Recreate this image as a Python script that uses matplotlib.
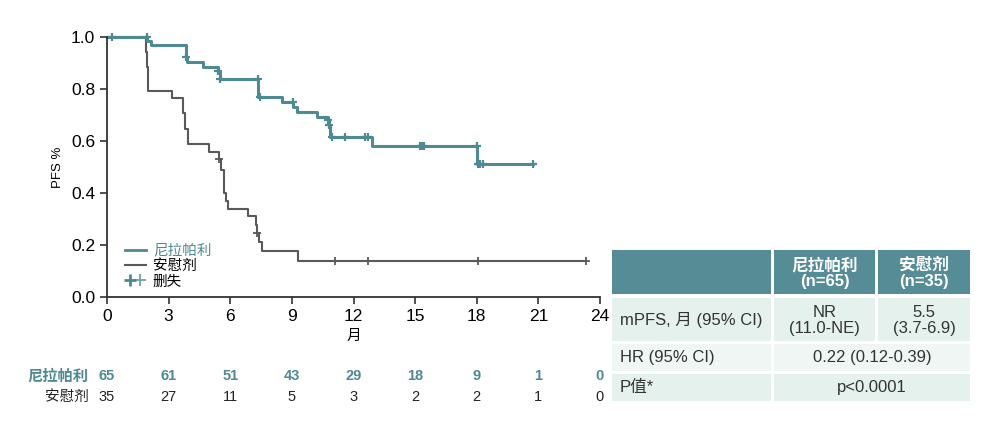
import matplotlib
matplotlib.use('Agg')
import matplotlib.pyplot as plt
from matplotlib.lines import Line2D
from matplotlib.patches import Rectangle
from matplotlib.legend_handler import HandlerTuple

plt.rcParams['font.family'] = ['Liberation Sans', 'Noto Sans CJK SC', 'DejaVu Sans']

teal = '#4e8a93'
gray = '#595959'
header_fill = '#558c95'
row_fill = '#e5f1ec'
row_fill_light = '#eff6f3'

# Kaplan-Meier steps
t_nir = [0, 1.93, 2.13, 3.85, 3.9, 4.69, 5.42, 5.5, 7.33, 8.5, 9.04, 9.24,
         10.2, 10.75, 10.8, 10.86, 12.89, 18.0, 20.76]
s_nir = [1.0, 0.985, 0.969, 0.923, 0.902, 0.886, 0.87, 0.838, 0.768, 0.749,
         0.73, 0.713, 0.694, 0.68, 0.662, 0.617, 0.582, 0.51, 0.51]
cens_t_nir = [0.23, 1.93, 3.85, 5.42, 5.5, 7.33, 7.45, 9.04, 10.78, 10.82,
              10.94, 11.6, 12.55, 12.7, 15.25, 15.35, 15.45, 18.0, 18.05,
              18.15, 18.3, 20.76]
cens_s_nir = [1.0, 1.0, 0.923, 0.87, 0.838, 0.838, 0.768, 0.749, 0.68, 0.662,
              0.617, 0.617, 0.617, 0.617, 0.582, 0.582, 0.582, 0.582, 0.51,
              0.51, 0.51, 0.51]

t_pla = [0, 1.88, 1.95, 2.02, 3.18, 3.72, 3.8, 3.96, 4.97, 5.45, 5.55, 5.7,
         5.8, 5.9, 6.85, 7.25, 7.3, 7.4, 7.55, 9.31, 23.3]
s_pla = [1.0, 0.943, 0.886, 0.794, 0.765, 0.706, 0.647, 0.588, 0.559, 0.53,
         0.488, 0.40, 0.37, 0.34, 0.31, 0.278, 0.245, 0.21, 0.176, 0.14, 0.14]
cens_t_pla = [5.47, 7.3, 11.1, 12.7, 18.05, 23.3]
cens_s_pla = [0.53, 0.245, 0.14, 0.14, 0.14, 0.14]

x_ticks = [0, 3, 6, 9, 12, 15, 18, 21, 24]
y_ticks = [0.0, 0.2, 0.4, 0.6, 0.8, 1.0]
risk_nir = [65, 61, 51, 43, 29, 18, 9, 1, 0]
risk_pla = [35, 27, 11, 5, 3, 2, 2, 1, 0]

arm_nir = '尼拉帕利'
arm_pla = '安慰剂'
censor_label = '删失'

table_header = ['', '尼拉帕利\n(n=65)', '安慰剂\n(n=35)']
table_rows = [
    ['mPFS, 月 (95% CI)', 'NR\n(11.0-NE)', '5.5\n(3.7-6.9)'],
    ['HR (95% CI)', '0.22 (0.12-0.39)'],
    ['P值*', 'p<0.0001'],
]

fig = plt.figure(figsize=(10, 4.33), dpi=100)
ax = fig.add_axes([0.107, 1 - 297 / 433, 0.493, 260 / 433])

ax.step(t_pla, s_pla, where='post', color=gray, linewidth=1.5, clip_on=False)
ax.step(t_nir, s_nir, where='post', color=teal, linewidth=2.2, clip_on=False)
ax.plot(cens_t_pla, cens_s_pla, '+', color=gray, markersize=6,
        markeredgewidth=1.3, clip_on=False)
ax.plot(cens_t_nir, cens_s_nir, '+', color=teal, markersize=6,
        markeredgewidth=1.6, clip_on=False)

ax.set_xlim(0, 24)
ax.set_ylim(0, 1.0)
ax.set_xticks(x_ticks)
ax.set_yticks(y_ticks)
ax.set_yticklabels([f'{v:.1f}' for v in y_ticks])
ax.tick_params(labelsize=12.5, length=5, width=1.2, color='#333333')
for side in ['top', 'right']:
  ax.spines[side].set_visible(False)
for side in ['left', 'bottom']:
  ax.spines[side].set_linewidth(1.3)
  ax.spines[side].set_color('#333333')

ax.set_ylabel('PFS %', fontsize=9.5, labelpad=5)
ax.set_xlabel('月', fontsize=10.5, labelpad=4)

h_nir = Line2D([], [], color=teal, linewidth=2)
h_pla = Line2D([], [], color=gray, linewidth=1.5)
h_cens = (Line2D([], [], color=teal, marker='+', linestyle='none',
                 markersize=8, markeredgewidth=2),
          Line2D([], [], color=teal, marker='+', linestyle='none',
                 markersize=8, markeredgewidth=1.3, alpha=0.8))
leg = ax.legend([h_nir, h_pla, h_cens], [arm_nir, arm_pla, censor_label],
                loc='lower left', bbox_to_anchor=(0.025, 0.01), frameon=False,
                fontsize=10.5, handlelength=1.4, handletextpad=0.5,
                labelspacing=0.1, borderaxespad=0,
                handler_map={tuple: HandlerTuple(ndivide=None, pad=0.0)})
leg.get_texts()[0].set_color(teal)

# numbers at risk
trans = ax.get_xaxis_transform()
ax.text(-0.9, -0.305, arm_nir, transform=trans, ha='right', va='center',
        fontsize=11, color=teal, fontweight='bold')
ax.text(-0.9, -0.385, arm_pla, transform=trans, ha='right', va='center',
        fontsize=10.5, color='#222222')
for x, a, b in zip(x_ticks, risk_nir, risk_pla):
  ax.text(x, -0.305, str(a), transform=trans, ha='center', va='center',
          fontsize=10.5, color=teal, fontweight='bold')
  ax.text(x, -0.385, str(b), transform=trans, ha='center', va='center',
          fontsize=10.5, color='#222222')

# summary table, drawn in figure pixels
tab = fig.add_axes([0, 0, 1, 1], zorder=-1)
tab.set_xlim(0, 1000)
tab.set_ylim(433, 0)
tab.axis('off')

col_x = [612, 771, 875, 970]
row_y = [250, 294, 298, 341, 344, 371, 374, 401]  # header top/bottom, then rows


def cell(x0, x1, y0, y1, color):
  tab.add_patch(Rectangle((x0, y0), x1 - x0, y1 - y0, facecolor=color,
                          edgecolor='none'))


gap = 3
# header
for i in range(3):
  x0 = col_x[i] + (gap if i > 0 else 0)
  cell(x0, col_x[i + 1], row_y[0], row_y[1], header_fill)
  if table_header[i]:
    tab.text((x0 + col_x[i + 1]) / 2, (row_y[0] + row_y[1]) / 2 + 1,
             table_header[i], ha='center', va='center', color='white',
             fontsize=12, linespacing=1.05, fontweight='bold')

fills = [row_fill, row_fill_light, row_fill]
for r, row in enumerate(table_rows):
  y0 = row_y[2 + 2 * r]
  y1 = row_y[3 + 2 * r]
  ym = (y0 + y1) / 2
  cell(col_x[0], col_x[1], y0, y1, fills[r])
  tab.text(col_x[0] + 8, ym, row[0], ha='left', va='center', fontsize=12,
           color='#333333')
  if len(row) == 3:
    for i in (1, 2):
      x0 = col_x[i] + gap
      cell(x0, col_x[i + 1], y0, y1, fills[r])
      tab.text((x0 + col_x[i + 1]) / 2, ym + 1, row[i], ha='center',
               va='center', fontsize=12, color='#333333', linespacing=1.05)
  else:
    x0 = col_x[1] + gap
    cell(x0, col_x[3], y0, y1, fills[r])
    tab.text((x0 + col_x[3]) / 2, ym, row[1], ha='center', va='center',
             fontsize=12, color='#333333')

fig.savefig('out.png', dpi=100)
